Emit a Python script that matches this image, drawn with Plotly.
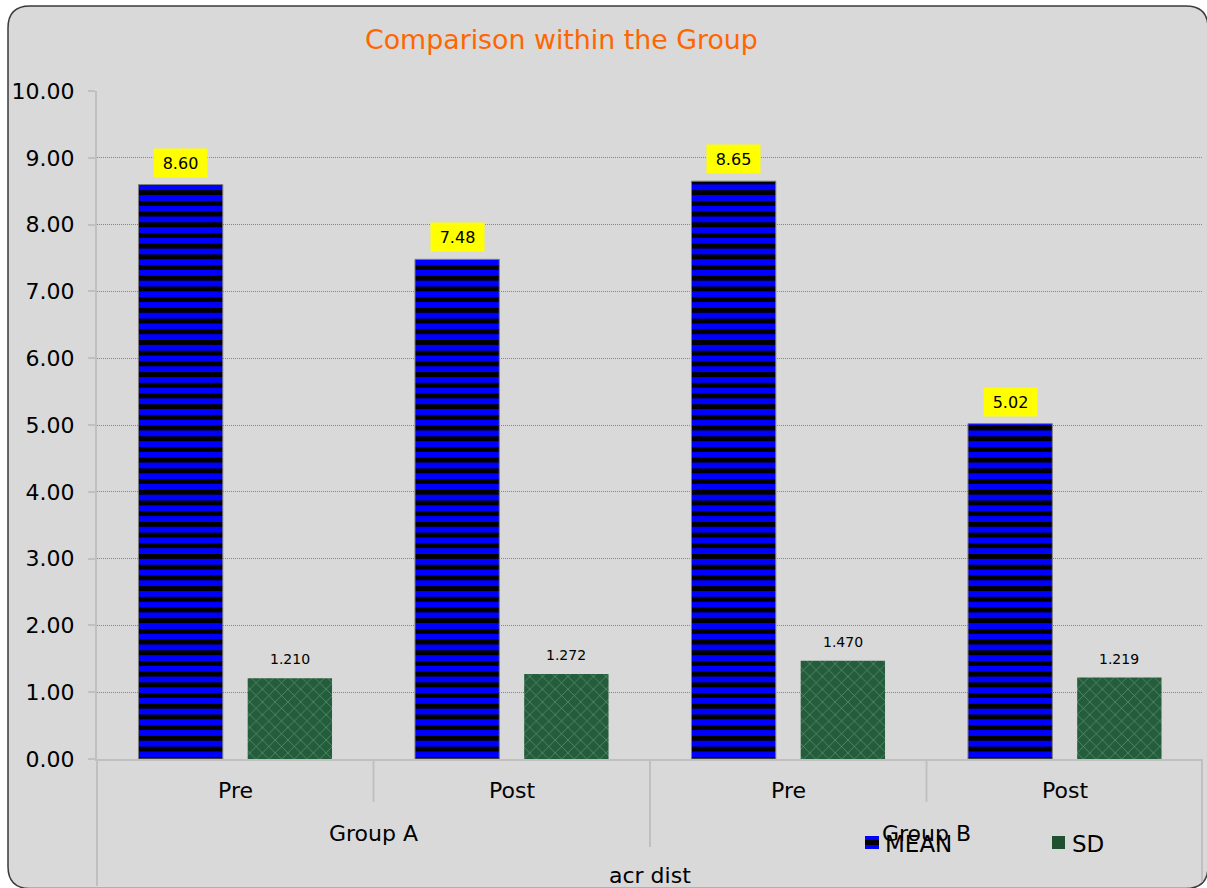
import plotly.graph_objects as go

# ---- data -------------------------------------------------------------
conditions = ["Pre", "Post", "Pre", "Post"]
groups = ["Group A", "Group B"]
mean_vals = [8.60, 7.48, 8.65, 5.02]
sd_vals = [1.210, 1.272, 1.470, 1.219]
y_ticks = [0, 1, 2, 3, 4, 5, 6, 7, 8, 9, 10]

# ---- canvas geometry (pixels) ------------------------------------------
W, H = 1207, 888
L, R, T, B = 97, 4, 91, 129
PW, PH = W - L - R, H - T - B
FONT = "DejaVu Sans"
GREY = "#c0c0c0"


def px_x(X):
    return (X - L) / PW


def px_y(Y):
    return (T + PH - Y) / PH


def pt(X, Y):
    return f"{px_x(X):.5f},{px_y(Y):.5f}"


xpos = list(range(len(conditions)))
bar_w = 0.305
mean_off = -0.35
sd_off = 0.045

fig = go.Figure()

fig.add_trace(go.Bar(
    name="MEAN", x=xpos, y=mean_vals, width=bar_w, offset=mean_off,
    marker=dict(
        color="#0000ff",
        line=dict(color="#7f7f7f", width=1),
        pattern=dict(shape="-", fgcolor="#000000", bgcolor="#0000ff",
                     size=10.7, solidity=0.45, fillmode="replace"),
    ),
    showlegend=False,
))
fig.add_trace(go.Bar(
    name="SD", x=xpos, y=sd_vals, width=bar_w, offset=sd_off,
    marker=dict(
        color="#245c3c",
        line=dict(width=0),
        pattern=dict(shape="x", fgcolor="#5f9f76", bgcolor="#245c3c",
                     size=9, solidity=0.14, fillmode="replace"),
    ),
    showlegend=False,
))

annotations = []

# value labels
for i, v in enumerate(mean_vals):
    annotations.append(dict(
        x=i + mean_off + bar_w / 2, y=v, xref="x", yref="y",
        text=f"{v:.2f}", showarrow=False, yanchor="bottom", yshift=7,
        bgcolor="#ffff00", width=53, height=28, borderpad=0,
        font=dict(family=FONT, size=16, color="black"),
    ))
for i, v in enumerate(sd_vals):
    annotations.append(dict(
        x=i + sd_off + bar_w / 2, y=v, xref="x", yref="y",
        text=f"{v:.3f}", showarrow=False, yanchor="bottom", yshift=9,
        font=dict(family=FONT, size=14, color="black"),
    ))

# category labels (two levels) and axis title
for i, c in enumerate(conditions):
    annotations.append(dict(
        x=i, y=px_y(790), xref="x", yref="paper", text=c, showarrow=False,
        yanchor="middle", font=dict(family=FONT, size=22, color="black"),
    ))
for j, g in enumerate(groups):
    annotations.append(dict(
        x=2 * j + 0.5, y=px_y(834), xref="x", yref="paper", text=g,
        showarrow=False, yanchor="middle",
        font=dict(family=FONT, size=22, color="black"),
    ))
annotations.append(dict(
    x=1.5, y=px_y(876), xref="x", yref="paper", text="acr dist",
    showarrow=False, yanchor="middle",
    font=dict(family=FONT, size=22, color="black"),
))

# title
annotations.append(dict(
    x=px_x(561.5), y=px_y(40), xref="paper", yref="paper",
    text="Comparison within the Group", showarrow=False,
    xanchor="center", yanchor="middle",
    font=dict(family=FONT, size=26.8, color="#ff6600"),
))

# legend text
annotations.append(dict(
    x=px_x(883), y=px_y(844), xref="paper", yref="paper", text="MEAN",
    showarrow=False, xanchor="left", yanchor="middle",
    font=dict(family=FONT, size=23, color="black"),
))
annotations.append(dict(
    x=px_x(1070), y=px_y(844), xref="paper", yref="paper", text="SD",
    showarrow=False, xanchor="left", yanchor="middle",
    font=dict(family=FONT, size=23, color="black"),
))

shapes = []

# rounded chart frame
x0, y0, x1, y1, r = 8, 6, 1208, 888.5, 22
frame = (
    f"M{pt(x0 + r, y0)} L{pt(x1 - r, y0)} Q{pt(x1, y0)} {pt(x1, y0 + r)} "
    f"L{pt(x1, y1 - r)} Q{pt(x1, y1)} {pt(x1 - r, y1)} "
    f"L{pt(x0 + r, y1)} Q{pt(x0, y1)} {pt(x0, y1 - r)} "
    f"L{pt(x0, y0 + r)} Q{pt(x0, y0)} {pt(x0 + r, y0)} Z"
)
shapes.append(dict(type="path", path=frame, xref="paper", yref="paper",
                   fillcolor="#d9d9d9", line=dict(color="#3a3a3a", width=1.5),
                   layer="below"))

# category dividers below the plot
def vline(X, Ytop, Ybot):
    return dict(type="line", xref="paper", yref="paper",
                x0=px_x(X), x1=px_x(X), y0=px_y(Ytop), y1=px_y(Ybot),
                line=dict(color=GREY, width=2), layer="below")


shapes.append(vline(L, 759, 886))
shapes.append(vline(L + PW * 0.25, 759, 802))
shapes.append(vline(L + PW * 0.5, 759, 847))
shapes.append(vline(L + PW * 0.75, 759, 802))
shapes.append(vline(L + PW - 1, 759, 882))

# legend swatches
def rect(xa, ya, xb, yb, color):
    return dict(type="rect", xref="paper", yref="paper",
                x0=px_x(xa), x1=px_x(xb), y0=px_y(yb), y1=px_y(ya),
                fillcolor=color, line=dict(width=0), layer="above")


shapes.append(rect(865, 836, 879, 849, "#0000ff"))
shapes.append(rect(865, 840, 879, 845, "#000000"))
shapes.append(rect(1052, 836, 1065, 849, "#1f5030"))

fig.update_layout(
    width=W, height=H,
    margin=dict(l=L, r=R, t=T, b=B, pad=0),
    paper_bgcolor="white", plot_bgcolor="rgba(0,0,0,0)",
    showlegend=False, barmode="overlay",
    annotations=annotations, shapes=shapes,
    xaxis=dict(range=[-0.5, 3.5], showticklabels=False, showgrid=False,
               zeroline=False, showline=True, linecolor=GREY, linewidth=2,
               ticks="", fixedrange=True),
    yaxis=dict(range=[0, 10], tickvals=y_ticks, tickformat=".2f",
               showgrid=True, gridcolor="#858585", gridwidth=1,
               griddash="1px,1px", zeroline=False, showline=True,
               linecolor=GREY, linewidth=2, ticks="outside", ticklen=7,
               tickwidth=2, tickcolor=GREY, ticklabelstandoff=9,
               tickfont=dict(family=FONT, size=22, color="black"),
               fixedrange=True),
)

fig.write_html("out.html")
